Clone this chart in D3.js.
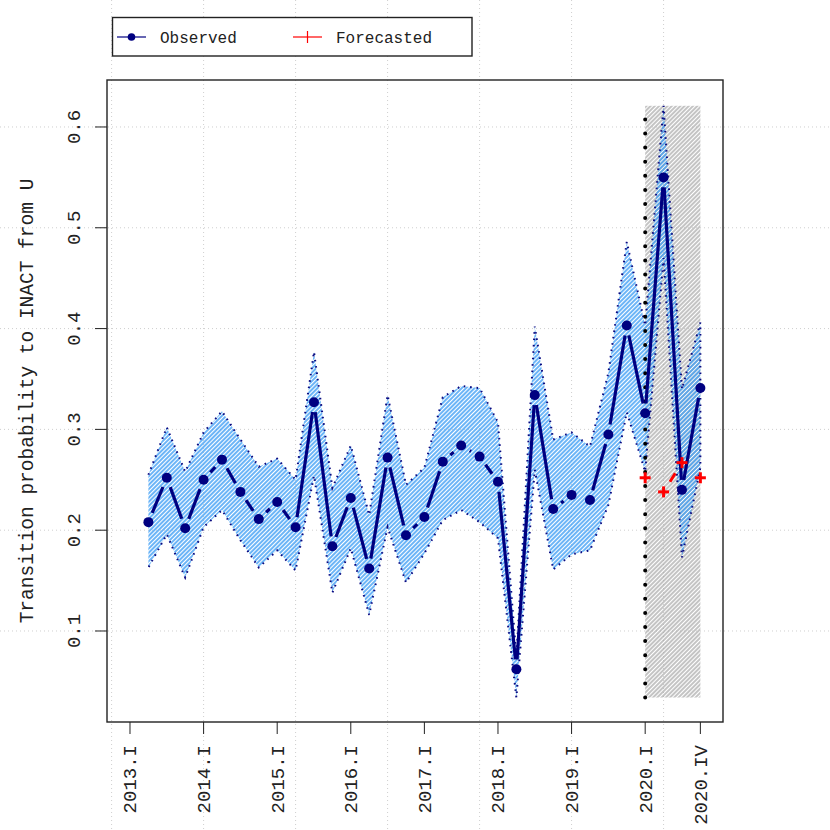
<!DOCTYPE html>
<html>
<head>
<meta charset="utf-8">
<script src="https://cdn.jsdelivr.net/npm/d3@7"></script>
<style>
  body { margin: 0; background: #fff; }
  text { font-family: "Liberation Mono", "DejaVu Sans Mono", monospace; fill: #222; }
</style>
</head>
<body>
<svg id="chart" width="830" height="830"></svg>
<script>
// quarters of the observed series
var quarters = ["2013.II","2013.III","2013.IV",
    "2014.I","2014.II","2014.III","2014.IV",
    "2015.I","2015.II","2015.III","2015.IV",
    "2016.I","2016.II","2016.III","2016.IV",
    "2017.I","2017.II","2017.III","2017.IV",
    "2018.I","2018.II","2018.III","2018.IV",
    "2019.I","2019.II","2019.III","2019.IV",
    "2020.I","2020.II","2020.III","2020.IV"];

var observed = [0.208,0.252,0.202,0.250,0.270,0.238,0.211,0.228,0.203,0.327,0.184,
    0.232,0.162,0.272,0.195,0.213,0.268,0.284,0.273,0.248,0.062,0.334,0.221,
    0.235,0.230,0.295,0.403,0.316,0.550,0.240,0.341];

var upper = [0.255,0.302,0.258,0.297,0.318,0.290,0.263,0.271,0.250,0.377,0.242,
    0.284,0.215,0.334,0.245,0.262,0.332,0.343,0.341,0.307,0.074,0.402,0.290,
    0.297,0.283,0.356,0.486,0.403,0.621,0.340,0.406];

var lower = [0.163,0.196,0.153,0.203,0.220,0.190,0.163,0.180,0.160,0.254,0.138,
    0.182,0.116,0.203,0.148,0.177,0.210,0.220,0.208,0.192,0.034,0.260,0.161,
    0.176,0.180,0.225,0.317,0.258,0.470,0.173,0.262];

var fcQuarters = ["2020.I","2020.II","2020.III","2020.IV"];
var forecast = [0.252,0.238,0.267,0.252];

var tickLabels = ["2013.I","2014.I","2015.I","2016.I","2017.I","2018.I","2019.I","2020.I","2020.IV"];
var yTicks = [0.1,0.2,0.3,0.4,0.5,0.6];
var gridQuarters = ["2012.IV","2014.I","2015.II","2016.III","2017.IV","2019.I","2020.II"];

var roman = ["I","II","III","IV"];
function qIndex(q) {
    var p = q.split(".");
    return (+p[0] - 2013) * 4 + roman.indexOf(p[1]);
}

function drawChart() {
    var svg = d3.select("#chart");
    var pl = 107, pr = 723, pt = 80, pb = 722;

    var x = d3.scaleLinear().domain([-1.25, 32.23]).range([pl, pr]);
    var y = d3.scaleLinear().domain([0.00972, 0.6466]).range([pb, pt]);

    var defs = svg.append("defs");
    defs.append("pattern")
        .attr("id", "hatchBlue")
        .attr("patternUnits", "userSpaceOnUse")
        .attr("width", 3).attr("height", 3)
        .attr("patternTransform", "rotate(45)")
        .append("line")
        .attr("x1", 1).attr("y1", 0).attr("x2", 1).attr("y2", 3)
        .attr("stroke", "#3a9cf4").attr("stroke-width", 1.5);
    defs.append("pattern")
        .attr("id", "hatchGrey")
        .attr("patternUnits", "userSpaceOnUse")
        .attr("width", 3).attr("height", 3)
        .attr("patternTransform", "rotate(45)")
        .append("line")
        .attr("x1", 1).attr("y1", 0).attr("x2", 1).attr("y2", 3)
        .attr("stroke", "#a4a4a4").attr("stroke-width", 1.3);

    // grid over the whole figure
    svg.append("g").selectAll("line")
       .data(yTicks)
       .enter().append("line")
       .attr("x1", 0).attr("x2", 830)
       .attr("y1", function(d) { return y(d); })
       .attr("y2", function(d) { return y(d); })
       .attr("stroke", "#cfcfcf").attr("stroke-dasharray", "1 3");
    svg.append("g").selectAll("line")
       .data(gridQuarters)
       .enter().append("line")
       .attr("y1", 0).attr("y2", 830)
       .attr("x1", function(d) { return x(qIndex(d)); })
       .attr("x2", function(d) { return x(qIndex(d)); })
       .attr("stroke", "#cfcfcf").attr("stroke-dasharray", "1 3");

    // forecast window
    var x0 = x(qIndex(fcQuarters[0])), x1 = x(qIndex(fcQuarters[fcQuarters.length - 1]));
    var yMax = y(d3.max(upper)), yMin = y(d3.min(lower));
    svg.append("rect")
       .attr("x", x0).attr("y", yMax)
       .attr("width", x1 - x0).attr("height", yMin - yMax)
       .attr("fill", "url(#hatchGrey)");

    // confidence band
    var band = quarters.map(function(q, i) { return [qIndex(q), upper[i]]; })
        .concat(quarters.map(function(q, i) { return [qIndex(q), lower[i]]; }).reverse());
    svg.append("path")
       .datum(band)
       .attr("d", d3.line().x(function(d) { return x(d[0]); }).y(function(d) { return y(d[1]); }))
       .attr("fill", "url(#hatchBlue)")
       .attr("stroke", "#0a0a80").attr("stroke-width", 2)
       .attr("stroke-dasharray", "1.6 4.8");

    // vertical dotted marker
    svg.append("line")
       .attr("x1", x0).attr("x2", x0)
       .attr("y1", yMin).attr("y2", yMax)
       .attr("stroke", "#000").attr("stroke-width", 4)
       .attr("stroke-linecap", "round")
       .attr("stroke-dasharray", "0 14.1");

    // lines with gaps around points (type "b")
    function gapSegments(pts, gap) {
        var segs = [];
        for (var i = 1; i < pts.length; i++) {
            var a = pts[i - 1], b = pts[i];
            var dx = b[0] - a[0], dy = b[1] - a[1];
            var len = Math.sqrt(dx * dx + dy * dy);
            if (len <= 2 * gap) continue;
            var ux = dx / len, uy = dy / len;
            segs.push([a[0] + ux * gap, a[1] + uy * gap, b[0] - ux * gap, b[1] - uy * gap]);
        }
        return segs;
    }

    var obsPts = quarters.map(function(q, i) { return [x(qIndex(q)), y(observed[i])]; });
    svg.append("g").selectAll("line")
       .data(gapSegments(obsPts, 10))
       .enter().append("line")
       .attr("x1", function(d) { return d[0]; }).attr("y1", function(d) { return d[1]; })
       .attr("x2", function(d) { return d[2]; }).attr("y2", function(d) { return d[3]; })
       .attr("stroke", "#000080").attr("stroke-width", 3.2);
    svg.append("g").selectAll("circle")
       .data(obsPts)
       .enter().append("circle")
       .attr("cx", function(d) { return d[0]; })
       .attr("cy", function(d) { return d[1]; })
       .attr("r", 5)
       .attr("fill", "#000080");

    // forecast
    var fcPts = fcQuarters.map(function(q, i) { return [x(qIndex(q)), y(forecast[i])]; });
    svg.append("g").selectAll("line")
       .data(gapSegments(fcPts, 12))
       .enter().append("line")
       .attr("x1", function(d) { return d[0]; }).attr("y1", function(d) { return d[1]; })
       .attr("x2", function(d) { return d[2]; }).attr("y2", function(d) { return d[3]; })
       .attr("stroke", "#ff0000").attr("stroke-width", 3)
       .attr("stroke-dasharray", "10 6");
    var cross = svg.append("g").selectAll("g")
       .data(fcPts)
       .enter().append("g")
       .attr("transform", function(d) { return "translate(" + d[0] + "," + d[1] + ")"; });
    cross.append("line").attr("x1", -5.5).attr("x2", 5.5).attr("y1", 0).attr("y2", 0)
       .attr("stroke", "#ff0000").attr("stroke-width", 3);
    cross.append("line").attr("y1", -5.5).attr("y2", 5.5).attr("x1", 0).attr("x2", 0)
       .attr("stroke", "#ff0000").attr("stroke-width", 3);

    // axes
    var yAxis = svg.append("g");
    yAxis.selectAll("line")
       .data(yTicks)
       .enter().append("line")
       .attr("x1", pl - 12).attr("x2", pl)
       .attr("y1", function(d) { return y(d); })
       .attr("y2", function(d) { return y(d); })
       .attr("stroke", "#222");
    yAxis.selectAll("text")
       .data(yTicks)
       .enter().append("text")
       .attr("transform", function(d) { return "translate(80," + y(d) + ") rotate(-90)"; })
       .attr("text-anchor", "middle")
       .attr("font-size", "19px")
       .text(function(d) { return d3.format(".1f")(d); });

    var xAxis = svg.append("g");
    xAxis.selectAll("line")
       .data(tickLabels)
       .enter().append("line")
       .attr("x1", function(d) { return x(qIndex(d)); })
       .attr("x2", function(d) { return x(qIndex(d)); })
       .attr("y1", pb).attr("y2", pb + 12)
       .attr("stroke", "#222");
    xAxis.selectAll("text")
       .data(tickLabels)
       .enter().append("text")
       .attr("transform", function(d) { return "translate(" + (x(qIndex(d)) + 6.5) + "," + (pb + 23) + ") rotate(-90)"; })
       .attr("text-anchor", "end")
       .attr("font-size", "19px")
       .text(function(d) { return d; });

    svg.append("text")
       .attr("transform", "translate(33," + ((pt + pb) / 2) + ") rotate(-90)")
       .attr("text-anchor", "middle")
       .attr("font-size", "19.5px")
       .text("Transition probability to INACT from U");

    // plot box
    svg.append("rect")
       .attr("x", pl).attr("y", pt)
       .attr("width", pr - pl).attr("height", pb - pt)
       .attr("fill", "none").attr("stroke", "#222").attr("stroke-width", 1.4);

    // legend
    var legend = svg.append("g");
    legend.append("rect")
       .attr("x", 112.5).attr("y", 17.5).attr("width", 359.5).attr("height", 38.5)
       .attr("fill", "#fff").attr("stroke", "#222").attr("stroke-width", 1.4);
    legend.append("line").attr("x1", 117).attr("x2", 146).attr("y1", 37).attr("y2", 37)
       .attr("stroke", "#000080").attr("stroke-width", 1.2);
    legend.append("circle").attr("cx", 131.5).attr("cy", 37).attr("r", 3.8).attr("fill", "#000080");
    legend.append("text").attr("x", 160).attr("y", 42.5).attr("font-size", "16px").text("Observed");
    legend.append("line").attr("x1", 293).attr("x2", 322).attr("y1", 37).attr("y2", 37)
       .attr("stroke", "#ff0000").attr("stroke-width", 1.2);
    legend.append("line").attr("x1", 307.5).attr("x2", 307.5).attr("y1", 31).attr("y2", 43)
       .attr("stroke", "#ff0000").attr("stroke-width", 1.2);
    legend.append("text").attr("x", 336).attr("y", 42.5).attr("font-size", "16px").text("Forecasted");
}

drawChart();
</script>
</body>
</html>
